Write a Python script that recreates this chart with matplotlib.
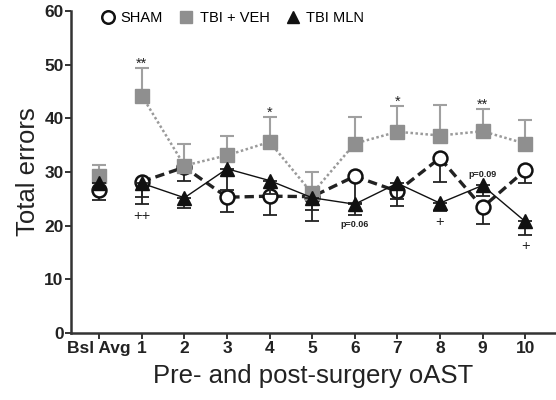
import numpy as np
import matplotlib
matplotlib.use("Agg")
import matplotlib.pyplot as plt
from matplotlib.lines import Line2D

plt.rcParams["font.family"] = ["Liberation Sans", "DejaVu Sans"]

# ---- data ----
sessions = ["Bsl Avg", "1", "2", "3", "4", "5", "6", "7", "8", "9", "10"]

sham_mean = [26.6, 28.2, 30.9, 25.3, 25.5, 25.4, 29.2, 26.4, 32.6, 23.4, 30.3]
sham_sem = [1.8, 2.8, 2.6, 2.7, 3.5, 2.5, 5.0, 2.7, 4.5, 3.1, 2.3]

veh_mean = [29.2, 44.2, 31.2, 33.1, 35.6, 26.0, 35.3, 37.5, 36.8, 37.6, 35.3]
veh_sem = [2.1, 5.1, 4.1, 3.6, 4.6, 4.0, 4.9, 4.8, 5.6, 4.1, 4.4]

mln_mean = [28.0, 27.9, 25.2, 30.6, 28.4, 25.2, 24.0, 27.9, 24.2, 27.5, 20.8]
mln_sem = [1.2, 3.9, 1.9, 4.0, 2.5, 4.4, 2.0, 3.0, 1.5, 2.0, 2.5]

# significance marks: session index, y, text
marks_x = [1, 4, 7, 9, 1, 6, 8, 9, 10]
marks_y = [50.2, 41.0, 43.0, 42.6, 21.8, 20.2, 20.7, 29.5, 16.3]
marks_txt = ["**", "*", "*", "**", "++", "p=0.06", "+", "p=0.09", "+"]

x = np.arange(len(sessions))
zeros = np.zeros(len(sessions))

fig = plt.figure(figsize=(5.56, 4.0), dpi=100)
ax = fig.add_axes([0.128, 0.1675, 0.870, 0.805])

# SHAM: open circles, thick dashed black line, lower error bars
ax.errorbar(x, sham_mean, yerr=[sham_sem, zeros], fmt="none", ecolor="#222222",
            elinewidth=1.3, capsize=5, capthick=1.3, zorder=2)
ax.plot(x[1:], sham_mean[1:], color="#222222", lw=2.4, dashes=(2.8, 1.5), zorder=3)
ax.plot(x, sham_mean, ls="none", marker="o", ms=10, mfc="white", mec="#111111",
        mew=1.8, zorder=4)

# TBI + VEH: grey squares, dotted grey line, upper error bars
ax.errorbar(x, veh_mean, yerr=[zeros, veh_sem], fmt="none", ecolor="#a0a0a0",
            elinewidth=1.5, capsize=5, capthick=1.5, zorder=5)
ax.plot(x[1:], veh_mean[1:], color="#9a9a9a", lw=1.8, dashes=(1, 1), zorder=5)
ax.plot(x, veh_mean, ls="none", marker="s", ms=10, mfc="#8f8f8f", mec="#8f8f8f", zorder=6)

# TBI MLN: black triangles, thin solid line, lower error bars
ax.errorbar(x, mln_mean, yerr=[mln_sem, zeros], fmt="none", ecolor="#222222",
            elinewidth=1.3, capsize=5, capthick=1.3, zorder=7)
ax.plot(x[1:], mln_mean[1:], color="#111111", lw=1.0, zorder=7)
ax.plot(x, mln_mean, ls="none", marker="^", ms=10, mfc="#111111", mec="#111111", zorder=8)

for xi, yi, t in zip(marks_x, marks_y, marks_txt):
    small = t.startswith("p=")
    ax.text(xi, yi, t, ha="center", va="center", fontsize=6.5 if small else 10.5,
            fontweight="bold" if small else "normal", color="#222222", zorder=9)

ax.set_xlim(-0.66, 10.7)
ax.set_ylim(0, 60)
ax.set_yticks(np.arange(0, 61, 10))
ax.set_xticks(x)
ax.set_xticklabels(sessions)
for lab in ax.get_xticklabels() + ax.get_yticklabels():
    lab.set_fontweight("bold")
    lab.set_fontsize(12.5)
    lab.set_color("#222222")
ax.tick_params(direction="out", length=4, width=1.4, color="#333333", pad=1.5)

for side in ["top", "right"]:
    ax.spines[side].set_visible(False)
for side in ["left", "bottom"]:
    ax.spines[side].set_linewidth(1.8)
    ax.spines[side].set_color("#333333")

ax.set_ylabel("Total errors", fontsize=18.5, color="#222222", labelpad=3)
ax.set_xlabel("Pre- and post-surgery oAST", fontsize=18.5, color="#222222", labelpad=6)

handles = [
    Line2D([], [], ls="none", marker="o", ms=9, mfc="white", mec="#111111", mew=1.8),
    Line2D([], [], ls="none", marker="s", ms=9, mfc="#8f8f8f", mec="#8f8f8f"),
    Line2D([], [], ls="none", marker="^", ms=9, mfc="#111111", mec="#111111"),
]
ax.legend(handles, ["SHAM", "TBI + VEH", "TBI MLN"], loc="upper left",
          bbox_to_anchor=(0.03, 1.04), ncol=3, frameon=False, fontsize=10.5,
          handletextpad=0.3, columnspacing=1.0, handlelength=1.2)

fig.savefig("out.png", dpi=100)
